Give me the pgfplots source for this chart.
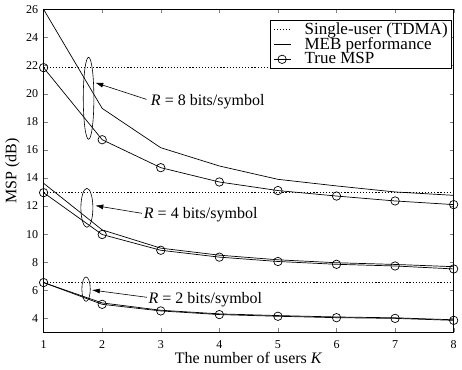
\documentclass[border=0pt]{standalone}
\usepackage{fontspec}
\setmainfont{Liberation Serif}
\usepackage{pgfplots}
\pgfplotsset{compat=1.18}
\usetikzlibrary{arrows.meta}
\begin{document}
\fontsize{16}{16}\selectfont
\begin{tikzpicture}
\begin{axis}[
  scale only axis, width=410pt, height=323pt,
  xmin=1, xmax=8, ymin=3, ymax=26,
  xtick={1,...,8}, ytick={4,6,...,26},
  tick align=inside, tick pos=both, major tick length=4pt,
  /pgf/number format/assume math mode=true,
  tick label style={font=\fontsize{12}{12}\selectfont},
  xticklabel style={yshift=-3pt},
  axis line style={line width=0.8pt},
  xlabel={The number of users \textit{K}},
  ylabel={MSP (dB)},
  xlabel style={font=\fontsize{16}{16}\selectfont, at={(axis description cs:0.5,-0.0805)}, anchor=center},
  ylabel style={font=\fontsize{16}{16}\selectfont, at={(axis description cs:-0.0756,0.5)}, anchor=center},
  legend style={at={(axis description cs:0.9944,0.967)}, anchor=north east,
    font=\fontsize{17}{17}\selectfont, draw=black, line width=0.8pt, fill=white,
    inner xsep=3pt, inner ysep=2pt,
    nodes={inner sep=0.3pt, text depth=0.15em},
    /tikz/every odd column/.append style={column sep=13pt}},
  legend cell align=left,
]
% Single-user (TDMA)
\addplot[black, line width=1.3pt, dash pattern=on 1.2pt off 1.9pt] coordinates {(1,21.85) (8,21.85)};
\addlegendentry{Single-user (TDMA)}
\addplot[black, line width=0.7pt] coordinates {(1,26) (2,18.95) (3,16.15) (4,14.85) (5,13.9) (6,13.43) (7,13.0) (8,12.76)};
\addlegendentry{MEB performance}
\addplot[black, line width=0.7pt, mark=o, mark size=4.2pt, mark options={fill=none, solid}] coordinates {(1,21.85) (2,16.72) (3,14.73) (4,13.71) (5,13.1) (6,12.71) (7,12.36) (8,12.1)};
\addlegendentry{True MSP}
% R = 4
\addplot[forget plot, black, line width=1.3pt, dash pattern=on 1.2pt off 1.9pt] coordinates {(1,12.97) (8,12.97)};
\addplot[forget plot, black, line width=0.7pt] coordinates {(1,13.62) (2,10.3) (3,9.0) (4,8.5) (5,8.17) (6,7.96) (7,7.84) (8,7.68)};
\addplot[forget plot, black, line width=0.7pt, mark=o, mark size=4.2pt, mark options={fill=none}] coordinates {(1,12.95) (2,9.97) (3,8.85) (4,8.36) (5,8.05) (6,7.85) (7,7.73) (8,7.52)};
% R = 2
\addplot[forget plot, black, line width=1.3pt, dash pattern=on 1.2pt off 1.9pt] coordinates {(1,6.55) (8,6.55)};
\addplot[forget plot, black, line width=0.7pt] coordinates {(1,6.55) (2,5.1) (3,4.58) (4,4.32) (5,4.2) (6,4.1) (7,4.04) (8,3.9)};
\addplot[forget plot, black, line width=0.7pt, mark=o, mark size=4.2pt, mark options={fill=none}] coordinates {(1,6.55) (2,5.0) (3,4.53) (4,4.27) (5,4.15) (6,4.05) (7,4.0) (8,3.86)};
% annotations
\draw[line width=0.6pt] (axis cs:1.768,19.67) ellipse [x radius=5.3pt, y radius=41pt];
\draw[line width=0.6pt] (axis cs:1.739,11.87) ellipse [x radius=6pt, y radius=19.5pt];
\draw[line width=0.6pt] (axis cs:1.725,6.08) ellipse [x radius=4.2pt, y radius=12.2pt];
\draw[line width=0.6pt, -{Latex[length=8pt,width=5pt]}] (axis cs:2.758,19.59) -- (axis cs:1.882,20.78);
\draw[line width=0.6pt, -{Latex[length=8pt,width=5pt]}] (axis cs:2.677,11.48) -- (axis cs:1.882,12.03);
\draw[line width=0.6pt, -{Latex[length=8pt,width=5pt]}] (axis cs:2.763,5.5) -- (axis cs:1.824,6.02);
\node[anchor=base west, inner sep=0pt] at (axis cs:2.83,19.19) {\textit{R} = 8 bits/symbol};
\node[anchor=base west, inner sep=0pt] at (axis cs:2.71,11.125) {\textit{R} = 4 bits/symbol};
\node[anchor=base west, inner sep=0pt] at (axis cs:2.79,5.07) {\textit{R} = 2 bits/symbol};
\end{axis}
\end{tikzpicture}
\end{document}
